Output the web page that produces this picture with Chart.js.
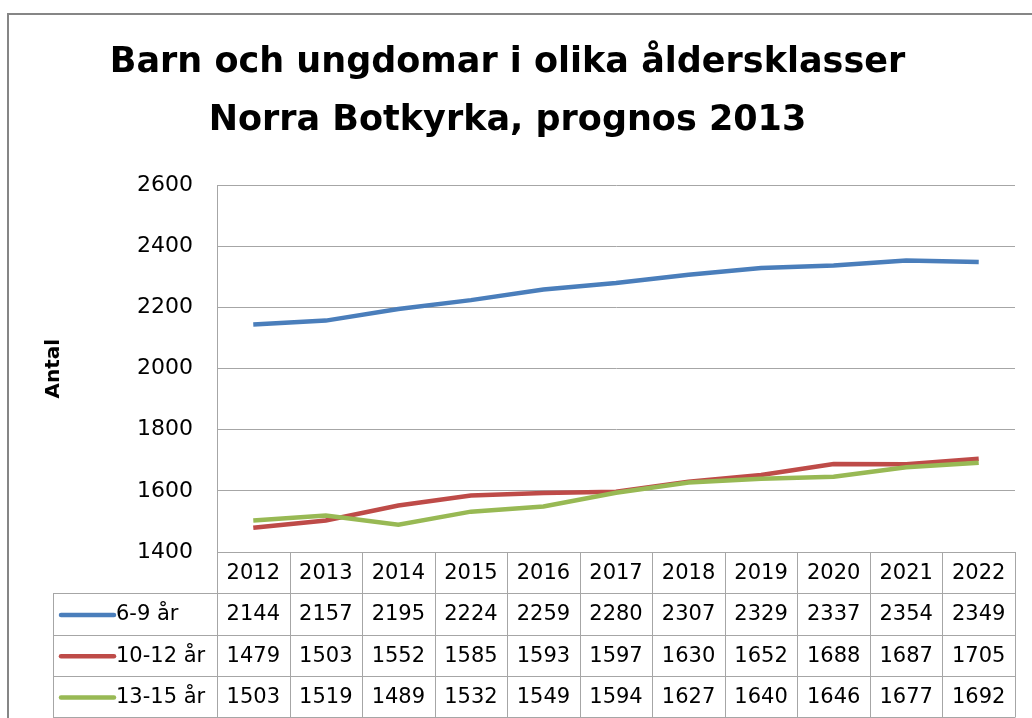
<!DOCTYPE html>
<html>
<head>
<meta charset="utf-8">
<script src="https://cdn.jsdelivr.net/npm/chart.js@4/dist/chart.umd.min.js"></script>
<style>
    body { margin: 0; background: #ffffff; }
    #wrap { width: 1032px; height: 718px; position: relative; }
</style>
</head>
<body>
<div id="wrap"><canvas id="ageChart"></canvas></div>
<script>
const years = ['2012', '2013', '2014', '2015', '2016', '2017', '2018', '2019', '2020', '2021', '2022'];
const seriesNames = ['6-9 år', '10-12 år', '13-15 år'];
const age6to9 = [2144, 2157, 2195, 2224, 2259, 2280, 2307, 2329, 2337, 2354, 2349];
const age10to12 = [1479, 1503, 1552, 1585, 1593, 1597, 1630, 1652, 1688, 1687, 1705];
const age13to15 = [1503, 1519, 1489, 1532, 1549, 1594, 1627, 1640, 1646, 1677, 1692];
const yMin = 1400;
const yMax = 2600;
const yStep = 200;

const seriesColors = ['#4a7ebb', '#be4b48', '#98b954'];
const gridColor = '#a6a6a6';
const fontFamily = '"DejaVu Sans", sans-serif';

// White background plus the grey frame round the whole chart
const framePlugin = {
    id: 'frame',
    beforeDraw(chart) {
        const ctx = chart.ctx;
        ctx.save();
        ctx.fillStyle = '#ffffff';
        ctx.fillRect(0, 0, chart.width, chart.height);
        ctx.strokeStyle = '#868686';
        ctx.lineWidth = 2;
        ctx.strokeRect(8, 14, chart.width + 20, chart.height + 20);
        ctx.restore();
    }
};

// Excel style data table under the plot, columns taken from the x scale
const dataTablePlugin = {
    id: 'dataTable',
    afterDraw(chart) {
        const ctx = chart.ctx;
        const x = chart.scales.x;
        const area = chart.chartArea;
        const colW = (area.right - area.left) / years.length;
        const rowH = 41.3;
        const top = area.bottom;
        const legendLeft = 53;
        const rows = [age6to9, age10to12, age13to15];

        ctx.save();
        ctx.strokeStyle = gridColor;
        ctx.lineWidth = 1;
        ctx.beginPath();
        // horizontal lines
        ctx.moveTo(area.left, Math.round(top) + 0.5);
        ctx.lineTo(area.right, Math.round(top) + 0.5);
        for (let r = 1; r <= rows.length + 1; r++) {
            const y = Math.round(top + r * rowH) + 0.5;
            ctx.moveTo(legendLeft, y);
            ctx.lineTo(area.right, y);
        }
        // vertical lines
        const bottom = Math.round(top + (rows.length + 1) * rowH) + 0.5;
        for (let i = 0; i <= years.length; i++) {
            const xx = Math.round(area.left + i * colW) + 0.5;
            ctx.moveTo(xx, top);
            ctx.lineTo(xx, bottom);
        }
        ctx.moveTo(legendLeft + 0.5, Math.round(top + rowH));
        ctx.lineTo(legendLeft + 0.5, bottom);
        ctx.stroke();

        ctx.fillStyle = '#000000';
        ctx.font = '21px ' + fontFamily;
        ctx.textAlign = 'center';
        ctx.textBaseline = 'middle';
        // header row with the years
        years.forEach(function (yr, i) {
            ctx.fillText(yr, x.getPixelForValue(i), top + rowH / 2 + 1);
        });
        // one row per series
        rows.forEach(function (vals, r) {
            const cy = top + (r + 1) * rowH + rowH / 2 + 1;
            vals.forEach(function (v, i) {
                ctx.fillText(String(v), x.getPixelForValue(i), cy);
            });
            // legend key
            ctx.strokeStyle = seriesColors[r];
            ctx.lineWidth = 4.5;
            ctx.lineCap = 'round';
            ctx.beginPath();
            ctx.moveTo(61, cy);
            ctx.lineTo(114, cy);
            ctx.stroke();
            ctx.textAlign = 'left';
            ctx.fillText(seriesNames[r], 116, cy);
            ctx.textAlign = 'center';
        });
        ctx.restore();
    }
};

function makeDataset(label, data, color, order) {
    return {
        label: label,
        data: data,
        borderColor: color,
        backgroundColor: color,
        borderWidth: 4.5,
        pointRadius: 0,
        tension: 0,
        order: order
    };
}

function initAgeChart() {
    const ctx = document.getElementById('ageChart').getContext('2d');
    const ageChart = new Chart(ctx, {
        type: 'line',
        data: {
            labels: years,
            datasets: [
                makeDataset(seriesNames[0], age6to9, seriesColors[0], 3),
                makeDataset(seriesNames[1], age10to12, seriesColors[1], 2),
                makeDataset(seriesNames[2], age13to15, seriesColors[2], 1)
            ]
        },
        options: {
            responsive: true,
            maintainAspectRatio: false,
            animation: false,
            devicePixelRatio: 1,
            layout: {
                padding: { left: 0, right: 17, top: 0, bottom: 158 }
            },
            plugins: {
                legend: { display: false },
                tooltip: { enabled: false },
                title: {
                    display: true,
                    text: ['Barn och ungdomar i olika åldersklasser', 'Norra Botkyrka, prognos 2013'],
                    color: '#000000',
                    font: { family: fontFamily, size: 35, weight: 'bold', lineHeight: 1.66 },
                    padding: { top: 34, bottom: 35 }
                }
            },
            scales: {
                x: {
                    offset: true,
                    grid: { display: false },
                    border: { display: false },
                    ticks: { display: false }
                },
                y: {
                    min: yMin,
                    max: yMax,
                    ticks: {
                        stepSize: yStep,
                        color: '#000000',
                        padding: 24,
                        font: { family: fontFamily, size: 22 },
                        callback: function (value) { return String(value); }
                    },
                    grid: { color: gridColor, drawTicks: false },
                    border: { color: gridColor },
                    title: {
                        display: true,
                        text: 'Antal',
                        color: '#000000',
                        font: { family: fontFamily, size: 20, weight: 'bold' },
                        padding: { top: 42, bottom: 0 }
                    },
                    afterFit: function (scale) {
                        scale.width = 217;
                    }
                }
            }
        },
        plugins: [framePlugin, dataTablePlugin]
    });
}

window.onload = () => {
    initAgeChart();
};
</script>
</body>
</html>
